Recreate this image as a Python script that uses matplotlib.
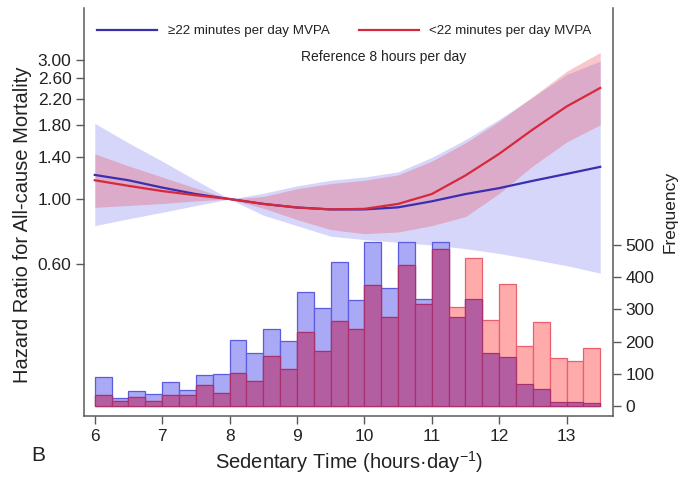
import numpy as np
import matplotlib.pyplot as plt
from matplotlib.ticker import FixedLocator, FixedFormatter, NullLocator

plt.rcParams['font.family'] = ['Liberation Sans', 'DejaVu Sans']
plt.rcParams['mathtext.fontset'] = 'custom'
plt.rcParams['mathtext.rm'] = 'Liberation Sans'
plt.rcParams['mathtext.it'] = 'Liberation Sans:italic'

# spline estimates (hours of sedentary time)
hours = [6.0, 6.5, 7.0, 7.5, 8.0, 8.5, 9.0, 9.5, 10.0, 10.5, 11.0, 11.5, 12.0, 12.5, 13.0, 13.5]

# >=22 min/day MVPA
hr_high = [1.21, 1.16, 1.095, 1.04, 1.00, 0.962, 0.935, 0.921, 0.921, 0.936, 0.982, 1.04, 1.09, 1.155, 1.22, 1.29]
upper_high = [1.82, 1.56, 1.35, 1.16, 1.00, 1.046, 1.11, 1.16, 1.19, 1.24, 1.39, 1.60, 1.88, 2.24, 2.68, 2.98]
lower_high = [0.81, 0.855, 0.90, 0.95, 1.00, 0.88, 0.81, 0.745, 0.725, 0.71, 0.695, 0.675, 0.65, 0.62, 0.59, 0.556]

# <22 min/day MVPA
hr_low = [1.16, 1.11, 1.065, 1.03, 1.00, 0.962, 0.935, 0.921, 0.925, 0.962, 1.04, 1.205, 1.43, 1.735, 2.08, 2.41]
upper_low = [1.43, 1.30, 1.19, 1.09, 1.00, 1.02, 1.085, 1.13, 1.16, 1.21, 1.35, 1.56, 1.85, 2.25, 2.75, 3.19]
lower_low = [0.936, 0.95, 0.965, 0.985, 1.00, 0.93, 0.85, 0.785, 0.76, 0.77, 0.81, 0.87, 1.045, 1.30, 1.57, 1.80]

# histogram counts, 0.25 h bins from 6.0 to 13.5
freq_high = [91, 26, 46, 36, 74, 50, 95, 98, 205, 165, 238, 202, 354, 304, 448,
             329, 510, 365, 510, 332, 510, 275, 332, 165, 152, 67, 54, 13, 12, 8]
freq_low = [33, 16, 27, 16, 34, 33, 66, 41, 104, 78, 154, 116, 229, 170, 265,
            239, 376, 275, 438, 317, 488, 308, 459, 267, 379, 186, 260, 148, 140, 181]

hr_ticks = [0.6, 1.0, 1.4, 1.8, 2.2, 2.6, 3.0]
hr_labels = ['0.60', '1.00', '1.40', '1.80', '2.20', '2.60', '3.00']
freq_ticks = [0, 100, 200, 300, 400, 500]
x_ticks = [6, 7, 8, 9, 10, 11, 12, 13]

spine_col = '#5a5a5a'
text_col = '#222222'

fig = plt.figure(figsize=(6.92, 4.8), dpi=100)
ax = fig.add_axes([0.1214, 0.1333, 0.7645, 0.85])

# confidence bands
ax.fill_between(hours, lower_high, upper_high, color='#d6d6fa', lw=0, zorder=1)
ax.fill_between(hours, lower_low, upper_low, color='#e84858', alpha=0.3, lw=0, zorder=2)

# spline lines
ax.plot(hours, hr_high, color='#3b2fb0', lw=1.6, zorder=3, label='≥22 minutes per day MVPA')
ax.plot(hours, hr_low, color='#d8283c', lw=1.6, zorder=3, label='<22 minutes per day MVPA')

ax.set_yscale('log')
ax.set_ylim(0.1794, 4.537)
ax.set_xlim(5.84, 13.69)
ax.yaxis.set_major_locator(FixedLocator(hr_ticks))
ax.yaxis.set_major_formatter(FixedFormatter(hr_labels))
ax.yaxis.set_minor_locator(NullLocator())
ax.set_xticks(x_ticks)

ax.set_ylabel('Hazard Ratio for All-cause Mortality', fontsize=14.5, color=text_col,
              labelpad=4, y=0.47)
ax.set_xlabel('Sedentary Time (hours·day$^{-1}$)', fontsize=14.5, color=text_col, labelpad=4)

ax.text(0.567, 0.88, 'Reference 8 hours per day', transform=ax.transAxes,
        ha='center', va='center', fontsize=10, color=text_col)

ax.legend(loc='center left', bbox_to_anchor=(0.0246, 0.9436), ncol=2, frameon=False,
          fontsize=9.6, handlelength=4.5, handletextpad=0.8, columnspacing=2.2,
          borderpad=0, borderaxespad=0, labelcolor=text_col)

# histogram on the frequency axis
ax2 = ax.twinx()
left_edges = 6.0 + 0.25 * np.arange(len(freq_high))
ax2.bar(left_edges, freq_high, width=0.25, align='edge', color='#a9a9f5',
        edgecolor='#5c5ce0', lw=0.9, zorder=2)
ax2.bar(left_edges, freq_low, width=0.25, align='edge', color='#ffabab',
        edgecolor='#e8606e', lw=0.9, zorder=3)
ax2.bar(left_edges, np.minimum(freq_high, freq_low), width=0.25, align='edge',
        color='#b45ea2', edgecolor='#a8306c', lw=0.9, zorder=4)
ax2.set_ylim(-31, 1236)
ax2.set_yticks(freq_ticks)
ax2.set_ylabel('Frequency', fontsize=12.5, color=text_col, labelpad=6)

for a in (ax, ax2):
    a.spines['top'].set_visible(False)
    for s in a.spines.values():
        s.set_color(spine_col)
        s.set_linewidth(1.1)
    a.tick_params(direction='out', length=6, width=1, color=spine_col,
                  labelsize=12.5, labelcolor=text_col, pad=3)
ax.spines['right'].set_visible(False)
ax2.spines['left'].set_visible(False)
ax2.spines['bottom'].set_visible(False)

fig.text(0.055, 0.052, 'B', fontsize=15, color=text_col, ha='center', va='center')

fig.savefig('out.png', dpi=100)
